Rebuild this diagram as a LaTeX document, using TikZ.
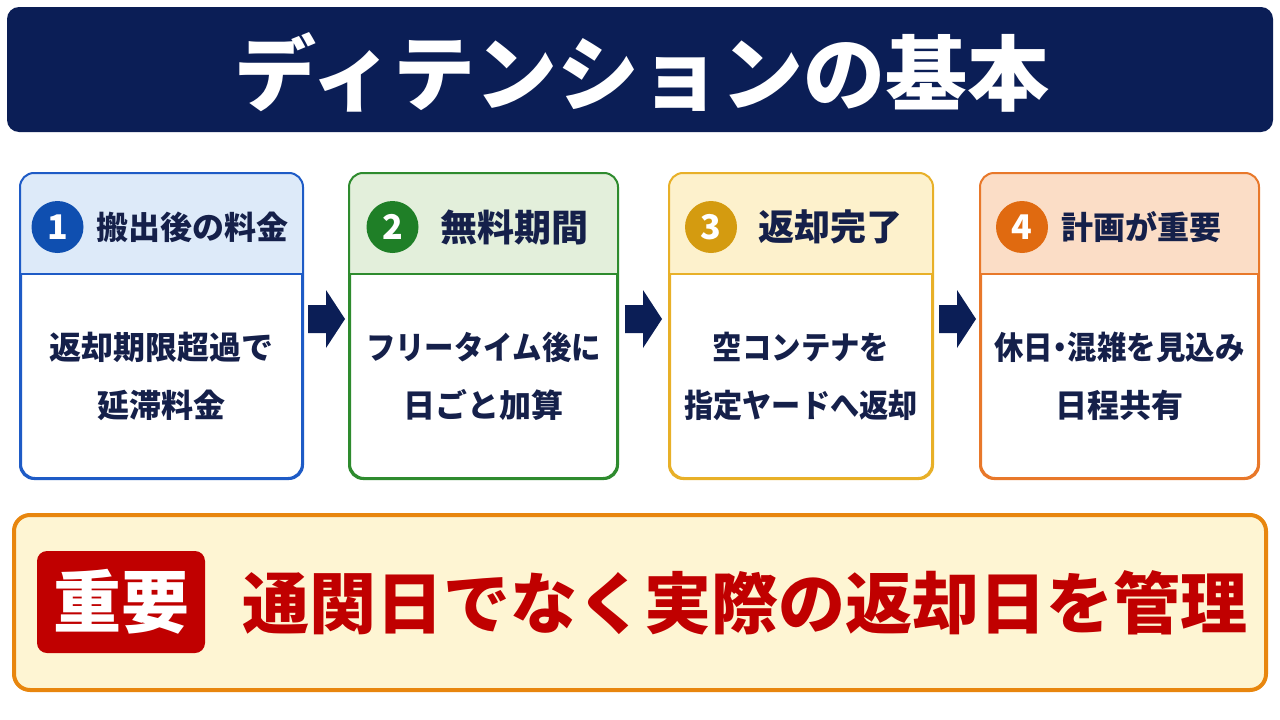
\documentclass[tikz,border=0pt]{standalone}
\usepackage{fontspec}
\setmainfont{Noto Sans CJK JP}
\usetikzlibrary{calc}
\definecolor{navy}{HTML}{0B1E56}
\definecolor{ink}{HTML}{15204A}
\definecolor{blueline}{HTML}{1E5BC6}
\definecolor{bluehead}{HTML}{DDEAF9}
\definecolor{bluedot}{HTML}{0F4FB0}
\definecolor{greenline}{HTML}{2E8B2E}
\definecolor{greenhead}{HTML}{E3EFDB}
\definecolor{greendot}{HTML}{1F7F27}
\definecolor{goldline}{HTML}{E8B028}
\definecolor{goldhead}{HTML}{FDF1CC}
\definecolor{golddot}{HTML}{D49B10}
\definecolor{orangeline}{HTML}{E8782A}
\definecolor{orangehead}{HTML}{FBDDC6}
\definecolor{orangedot}{HTML}{E06A10}
\definecolor{noteline}{HTML}{E8860E}
\definecolor{notefill}{HTML}{FEF5D3}
\definecolor{alert}{HTML}{C00000}
\newcommand{\fs}[1]{\fontsize{#1}{#1}\selectfont}
\tikzset{
  cardbox/.style={rectangle, rounded corners=14pt, line width=2pt, fill=white, minimum height=304pt, inner sep=0pt},
  numdot/.style={circle, minimum size=52pt, inner sep=0pt, text=white, font=\bfseries\fs{34}},
  cardtitle/.style={anchor=west, inner sep=0pt, text=ink, font=\bfseries\fs{34}},
  cardbody/.style={align=center, inner sep=0pt, text=ink, font=\bfseries\fontsize{32}{58}\selectfont},
  flowarrow/.style={fill=navy}
}
% #1 name, #2 left x, #3 right x, #4 colour prefix, #5 number, #6 dot x, #7 title x, #8 title, #9 body
\newcommand{\mkcard}[9]{%
  \node[cardbox, draw=#4line, minimum width={#3-#2}] (#1) at ({(#2+#3)/2},326) {};
  \fill[#4head] ($(#1.north west)+(1pt,101)$) {[rounded corners=13pt] -- ($(#1.north west)+(1pt,1pt)$) -- ($(#1.north east)+(-1pt,1pt)$)} -- ($(#1.north east)+(-1pt,101)$) -- cycle;
  \draw[#4line, line width=2pt] ($(#1.north west)+(0,101)$) -- ($(#1.north east)+(0,101)$);
  \draw[#4line, line width=2pt, rounded corners=14pt] (#1.south west) rectangle (#1.north east);
  \node[numdot, fill=#4dot] (#1n) at (#6,227) {#5};
  \node[cardtitle] (#1t) at (#7,227) {#8};
  \node[cardbody] (#1b) at ({(#2+#3)/2},376) {#9};
}
\begin{document}
\begin{tikzpicture}[x=1pt,y=-1pt]
\useasboundingbox (0,0) rectangle (1280,720);
\fill[white] (0,0) rectangle (1280,720);
% title
\node[rectangle, rounded corners=12pt, fill=navy, minimum width=1266pt, minimum height=125pt] (bar) at (640,69.5) {};
\node[text=white, inner sep=0pt, font=\bfseries\fs{82}] (ttl) at (642,72) {ディテンションの基本};
% cards
\mkcard{c1}{21}{302}{blue}{1}{57.5}{96}{{\fs{32}搬出後の料金}}{返却期限超過で\\延滞料金}
\mkcard{c2}{350}{617}{green}{2}{392.5}{440}{{\fs{37}無料期間}}{\scalebox{0.92}[1]{フリータイム後に}\\日ごと加算}
\mkcard{c3}{670}{932}{gold}{3}{711}{758}{{\fs{36}返却完了}}{\scalebox{0.92}[1]{空コンテナを}\\\scalebox{0.91}[1]{指定ヤードへ返却}}
\mkcard{c4}{981}{1258}{orange}{4}{1022}{1061}{{\fs{32}計画が重要}}{\scalebox{0.92}[1]{休日\kern-8pt・\kern-8pt混雑を見込み}\\日程共有}
% arrows between cards
\foreach \ax/\nm in {308/a1, 625/a2, 939/a3} {
  \coordinate (\nm) at (\ax,319);
  \fill[flowarrow] (\nm) ++(0,-14) -- ++(18,0) -- ++(0,-15) -- ++(19,29) -- ++(-19,29) -- ++(0,-15) -- ++(-18,0) -- cycle;
}
% note
\node[rectangle, rounded corners=16pt, fill=notefill, draw=noteline, line width=4pt, minimum width=1252pt, minimum height=175pt] (note) at (640,602.5) {};
\node[rectangle, rounded corners=10pt, fill=alert, minimum width=168pt, minimum height=102pt, text=white, font=\bfseries\fs{68}, inner sep=0pt] (badge) at (121,602) {重要};
\node[text=alert, inner sep=0pt, font=\bfseries\fs{67}] (msg) at (744.5,603) {通関日でなく実際の返却日を管理};
\end{tikzpicture}
\end{document}
